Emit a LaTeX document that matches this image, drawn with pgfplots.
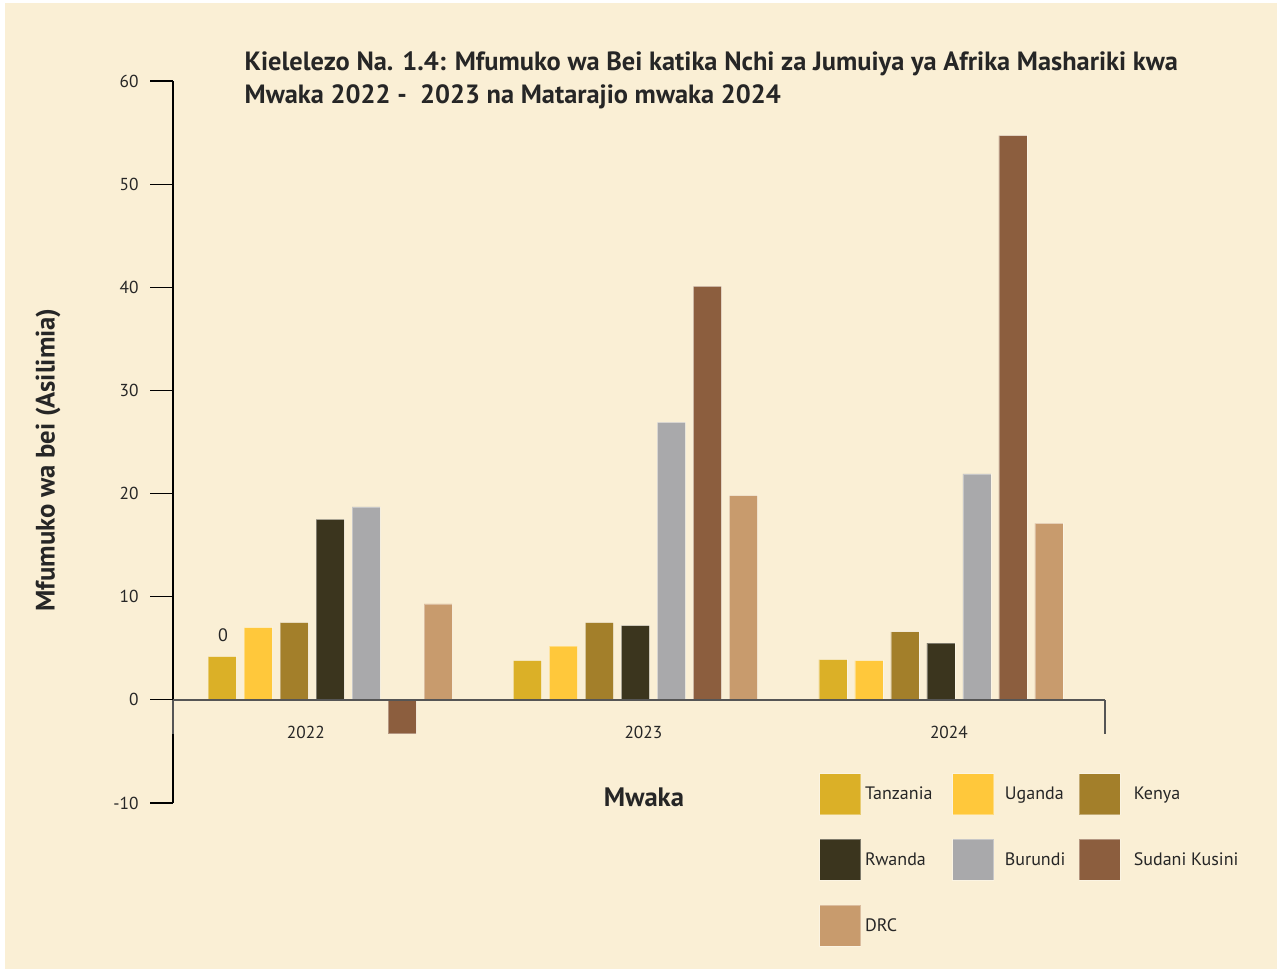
\documentclass[border=0pt]{standalone}
\usepackage{pgfplots}
\pgfplotsset{compat=1.18}
\usepackage{fontspec}
\setmainfont{PT Sans}
\definecolor{bg}{HTML}{FAEFD5}
\definecolor{cTz}{HTML}{DBB027}
\definecolor{cUg}{HTML}{FFC83B}
\definecolor{cKe}{HTML}{A37F2A}
\definecolor{cRw}{HTML}{3B351E}
\definecolor{cBu}{HTML}{A9A9AB}
\definecolor{cSs}{HTML}{8C5E3E}
\definecolor{cDr}{HTML}{C89B6D}
\definecolor{txt}{HTML}{262626}
\definecolor{axgray}{HTML}{555555}
\begin{document}
\begin{tikzpicture}
\fill[white] (0pt,0pt) rectangle (960pt,728.25pt);
\fill[bg] (3.75pt,1.5pt) rectangle (957.75pt,726pt);
\begin{axis}[
  at={(129.75pt,126pt)}, anchor=south west,
  scale only axis, width=699pt, height=541.5pt,
  xmin=-0.514, xmax=2.537, ymin=-10, ymax=60,
  axis x line=none, axis y line*=left,
  ytick={-10,0,10,20,30,40,50,60},
  tick align=outside, major tick length=17.25pt,
  y axis line style={black, line width=0.8pt},
  ytick style={black, line width=0.8pt},
  yticklabel style={font=\fontsize{13pt}{15pt}\selectfont, text=txt, xshift=-5pt},
  /pgf/number format/assume math mode=true,
  ybar=6pt, bar width=21pt,
  clip=false,
  every axis plot/.append style={draw=white, draw opacity=0.35, line width=0.6pt},
  legend columns=3,
  legend style={at={(0.6931,0.0416)}, anchor=north west, draw=none, fill=none,
    inner sep=0pt, font=\fontsize{13.5pt}{15pt}\selectfont, text=txt,
    /tikz/column 1/.append style={column sep=1pt},
    /tikz/column 2/.append style={column sep=13pt},
    /tikz/column 3/.append style={column sep=6pt},
    /tikz/column 4/.append style={column sep=8pt},
    /tikz/column 5/.append style={column sep=8pt},
    row sep=18pt},
  legend cell align=left,
  legend image code/.code={\fill[#1] (0pt,-15.375pt) rectangle (30.75pt,15.375pt);},
]
\addplot[fill=cTz] coordinates {(0,4.2) (1,3.8) (2,3.9)};
\addlegendentry{Tanzania}
\addplot[fill=cUg] coordinates {(0,7.0) (1,5.2) (2,3.8)};
\addlegendentry{Uganda}
\addplot[fill=cKe] coordinates {(0,7.5) (1,7.5) (2,6.6)};
\addlegendentry{Kenya}
\addplot[fill=cRw] coordinates {(0,17.5) (1,7.2) (2,5.5)};
\addlegendentry{Rwanda}
\addplot[fill=cBu] coordinates {(0,18.7) (1,26.9) (2,21.9)};
\addlegendentry{Burundi}
\addplot[fill=cSs] coordinates {(0,-3.3) (1,40.1) (2,54.7)};
\addlegendentry{Sudani Kusini}
\addplot[fill=cDr] coordinates {(0,9.3) (1,19.8) (2,17.1)};
\addlegendentry{DRC}
\draw[axgray, line width=1.5pt] (axis cs:-0.514,0) -- (axis cs:2.537,0);
\draw[axgray, line width=1.5pt] (axis cs:2.537,0) -- (axis cs:2.537,-3.3);
\draw[axgray, line width=1pt] (axis cs:-0.514,0) -- (axis cs:-0.514,-3.3);
\node[font=\fontsize{13pt}{15pt}\selectfont, text=txt] at (axis cs:-0.079,-3.2) {2022};
\node[font=\fontsize{13pt}{15pt}\selectfont, text=txt] at (axis cs:1.026,-3.2) {2023};
\node[font=\fontsize{13pt}{15pt}\selectfont, text=txt] at (axis cs:2.026,-3.2) {2024};
\node[font=\fontsize{13.5pt}{15pt}\selectfont, text=txt] at (axis cs:-0.350,6.25) {0};
\end{axis}
\node[anchor=north west, align=left, font=\fontsize{19.8pt}{25pt}\selectfont\bfseries, text=txt]
  at (180pt,693pt) {Kielelezo Na. 1.4: Mfumuko wa Bei katika Nchi za Jumuiya ya Afrika Mashariki kwa\\Mwaka 2022 -\ \ 2023 na Matarajio mwaka 2024};
\node[rotate=90, font=\fontsize{20pt}{24pt}\selectfont\bfseries, text=txt] at (36pt,383.25pt) {Mfumuko wa bei (Asilimia)};
\node[font=\fontsize{20pt}{24pt}\selectfont\bfseries, text=txt] at (483pt,130.5pt) {Mwaka};
\end{tikzpicture}
\end{document}
